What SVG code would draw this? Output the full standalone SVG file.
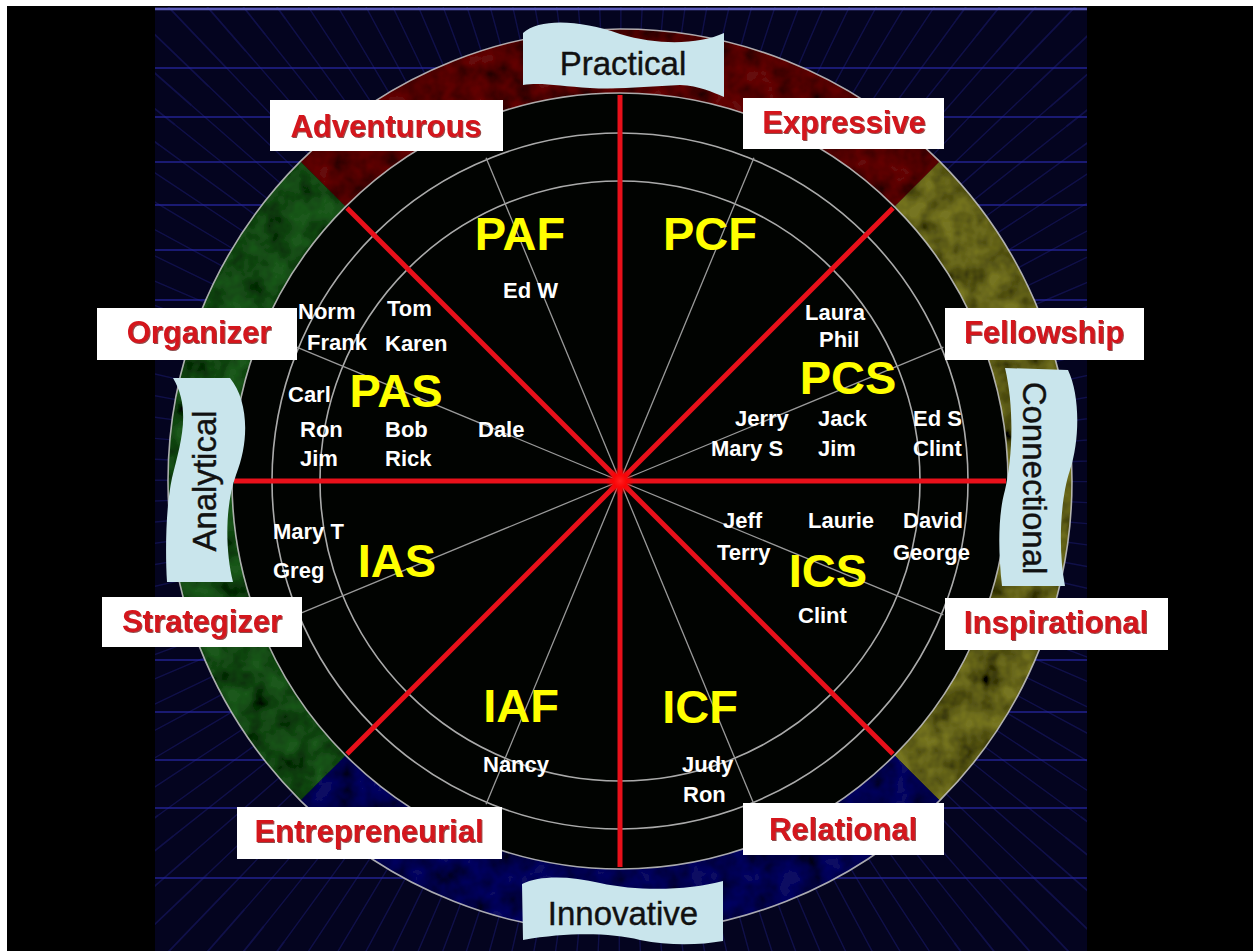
<svg xmlns="http://www.w3.org/2000/svg" width="1253" height="951" viewBox="0 0 1253 951">
<style>
.lbl{fill:#ffffff}
.lt{font-family:"Liberation Sans",Arial,sans-serif;font-weight:bold;font-size:31px;fill:#d4141c;text-anchor:middle}
.code{font-family:"Liberation Sans",Arial,sans-serif;font-weight:bold;font-size:47px;fill:#ffff00;text-anchor:middle}
.nm{font-family:"Liberation Sans",Arial,sans-serif;font-weight:bold;font-size:22px;fill:#ffffff}
.ban{fill:#c9e5ec}
.bt{font-family:"Liberation Sans",Arial,sans-serif;font-size:33px;fill:#111111;text-anchor:middle;stroke:#111111;stroke-width:0.4}
.ring{fill:none;stroke:#c8c8c8;stroke-width:1.6;opacity:0.85}
.spoke{stroke:#9a9a9a;stroke-width:1.3}
.div{stroke:#e8101a;stroke-width:5}
.hl{stroke:#2626a0;stroke-width:2;opacity:0.65}
</style>
<defs>
<clipPath id="bgclip"><rect x="155" y="7" width="932" height="944"/></clipPath>
<filter id="mottle" x="0" y="0" width="1" height="1">
<feTurbulence type="fractalNoise" baseFrequency="0.045" numOctaves="3" seed="4" result="n"/>
<feColorMatrix in="n" type="matrix" values="0 0 0 0 0  0 0 0 0 0  0 0 0 0 0  1.6 0 0 0 -0.45" result="a"/>
<feComposite in="a" in2="SourceGraphic" operator="in" result="d"/>
<feMerge><feMergeNode in="SourceGraphic"/><feMergeNode in="d"/></feMerge>
</filter>
<filter id="shadow" x="-5%" y="-20%" width="110%" height="140%">
<feDropShadow dx="1" dy="1" stdDeviation="0.7" flood-color="#600000" flood-opacity="0.7"/>
</filter>
<radialGradient id="glow"><stop offset="0" stop-color="#ff2020"/><stop offset="0.5" stop-color="#ff0000" stop-opacity="0.8"/><stop offset="1" stop-color="#ff0000" stop-opacity="0"/></radialGradient>
</defs>

<g id="background">
<rect x="0" y="0" width="1253" height="951" fill="#000000"/>
<rect x="0" y="0" width="1253" height="6" fill="#ffffff"/>
<rect x="0" y="0" width="7" height="951" fill="#ffffff"/>
<rect x="155" y="7" width="932" height="944" fill="#04041f"/>
<g clip-path="url(#bgclip)">
<circle cx="620" cy="481" r="510" fill="none" stroke="#24248a" stroke-width="120" stroke-dasharray="1.4 21.489" opacity="0.4"/>
<circle cx="620" cy="481" r="640" fill="none" stroke="#24248a" stroke-width="140" stroke-dasharray="1.8 26.923" opacity="0.4"/>
<line class="hl" x1="155" y1="68" x2="1087" y2="68"/>
<line class="hl" x1="155" y1="117" x2="1087" y2="117"/>
<line class="hl" x1="155" y1="162" x2="1087" y2="162"/>
<line class="hl" x1="155" y1="205" x2="1087" y2="205"/>
<line class="hl" x1="155" y1="250" x2="1087" y2="250"/>
<line class="hl" x1="155" y1="300" x2="1087" y2="300"/>
<line class="hl" x1="155" y1="660" x2="1087" y2="660"/>
<line class="hl" x1="155" y1="712" x2="1087" y2="712"/>
<line class="hl" x1="155" y1="760" x2="1087" y2="760"/>
<line class="hl" x1="155" y1="808" x2="1087" y2="808"/>
<line class="hl" x1="155" y1="878" x2="1087" y2="878"/>
<line x1="155" y1="9" x2="1087" y2="9" stroke="#5a5ab8" stroke-width="2.5"/>
</g>
</g>

<g id="wheel">
<g filter="url(#mottle)">
<path d="M300.39,161.39 A452,452 0 0 1 939.61,161.39 L894.36,206.64 A388,388 0 0 0 345.64,206.64 Z" fill="#650b10"/>
<path d="M939.61,161.39 A452,452 0 0 1 939.61,800.61 L894.36,755.36 A388,388 0 0 0 894.36,206.64 Z" fill="#767420"/>
<path d="M939.61,800.61 A452,452 0 0 1 300.39,800.61 L345.64,755.36 A388,388 0 0 0 894.36,755.36 Z" fill="#0c0c62"/>
<path d="M300.39,800.61 A452,452 0 0 1 300.39,161.39 L345.64,206.64 A388,388 0 0 0 345.64,755.36 Z" fill="#1f581f"/>
</g>
<circle cx="620" cy="481" r="388" fill="#010301"/>
<circle class="ring" cx="620" cy="481" r="452"/>
<circle class="ring" cx="620" cy="481" r="388"/>
<circle class="ring" cx="620" cy="481" r="348"/>
<circle class="ring" cx="620" cy="481" r="300"/>
<line class="spoke" x1="620" y1="481" x2="943.36" y2="614.94"/>
<line class="spoke" x1="620" y1="481" x2="753.94" y2="804.36"/>
<line class="spoke" x1="620" y1="481" x2="486.06" y2="804.36"/>
<line class="spoke" x1="620" y1="481" x2="296.64" y2="614.94"/>
<line class="spoke" x1="620" y1="481" x2="296.64" y2="347.06"/>
<line class="spoke" x1="620" y1="481" x2="486.06" y2="157.64"/>
<line class="spoke" x1="620" y1="481" x2="753.94" y2="157.64"/>
<line class="spoke" x1="620" y1="481" x2="943.36" y2="347.06"/>
</g>

<g id="connectors">
<line class="div" x1="620" y1="95" x2="620" y2="867"/>
<line class="div" x1="234" y1="481" x2="1006" y2="481"/>
<line class="div" x1="347" y1="208" x2="893" y2="754"/>
<line class="div" x1="893" y1="208" x2="347" y2="754"/>
<circle cx="620" cy="481" r="14" fill="url(#glow)"/>
</g>

<g id="banner-practical">
<path class="ban" d="M523,33 C540,18 580,20 620,34 C660,46 700,44 724,33 L724,97 C712,92 700,86 680,85 C650,86 620,90 590,88 C560,86 540,82 523,85 Z"/>
<text class="bt" x="623" y="75">Practical</text>
</g>
<g id="banner-innovative">
<path class="ban" d="M522,884 C540,875 570,876 600,883 C640,892 690,890 723,881 L723,941 C700,945 670,946 640,940 C610,933 570,932 523,940 Z"/>
<text class="bt" x="623" y="925">Innovative</text>
</g>
<g id="banner-analytical">
<path class="ban" d="M173,378 L230,378 C248,400 250,440 236,475 C225,505 225,550 233,582 L167,582 C165,550 166,505 172,478 C180,445 192,410 173,378 Z"/>
<text class="bt" transform="translate(216,481) rotate(-90)">Analytical</text>
</g>
<g id="banner-connectional">
<path class="ban" d="M1005,368 L1068,370 C1080,395 1080,440 1070,470 C1060,500 1058,550 1065,586 L1002,586 C998,550 998,515 1005,490 C1012,460 1015,410 1005,368 Z"/>
<text class="bt" transform="translate(1023,478) rotate(90)">Connectional</text>
</g>

<g id="label-adventurous"><rect class="lbl" x="270" y="100" width="233" height="51"/><text class="lt" filter="url(#shadow)" x="386" y="137">Adventurous</text></g>
<g id="label-expressive"><rect class="lbl" x="743" y="98" width="201" height="51"/><text class="lt" filter="url(#shadow)" x="844" y="133">Expressive</text></g>
<g id="label-organizer"><rect class="lbl" x="97" y="308" width="200" height="52"/><text class="lt" filter="url(#shadow)" x="199" y="343">Organizer</text></g>
<g id="label-fellowship"><rect class="lbl" x="945" y="308" width="199" height="52"/><text class="lt" filter="url(#shadow)" x="1044" y="343">Fellowship</text></g>
<g id="label-strategizer"><rect class="lbl" x="102" y="597" width="200" height="50"/><text class="lt" filter="url(#shadow)" x="202" y="632">Strategizer</text></g>
<g id="label-inspirational"><rect class="lbl" x="945" y="598" width="223" height="52"/><text class="lt" filter="url(#shadow)" x="1056" y="633">Inspirational</text></g>
<g id="label-entrepreneurial"><rect class="lbl" x="237" y="807" width="265" height="52"/><text class="lt" filter="url(#shadow)" x="369" y="842">Entrepreneurial</text></g>
<g id="label-relational"><rect class="lbl" x="743" y="803" width="201" height="52"/><text class="lt" filter="url(#shadow)" x="843" y="840">Relational</text></g>

<g id="sector-paf"><text class="code" x="520" y="250">PAF</text><text class="nm" x="503" y="298">Ed W</text></g>
<g id="sector-pcf"><text class="code" x="710" y="250">PCF</text></g>
<g id="sector-pas">
<text class="code" x="396" y="407">PAS</text>
<text class="nm" x="298" y="319">Norm</text>
<text class="nm" x="387" y="316">Tom</text>
<text class="nm" x="307" y="350">Frank</text>
<text class="nm" x="385" y="351">Karen</text>
<text class="nm" x="288" y="402">Carl</text>
<text class="nm" x="300" y="437">Ron</text>
<text class="nm" x="385" y="437">Bob</text>
<text class="nm" x="478" y="437">Dale</text>
<text class="nm" x="300" y="466">Jim</text>
<text class="nm" x="385" y="466">Rick</text>
</g>
<g id="sector-ias">
<text class="code" x="397" y="577">IAS</text>
<text class="nm" x="273" y="539">Mary T</text>
<text class="nm" x="273" y="578">Greg</text>
</g>
<g id="sector-pcs">
<text class="code" x="848" y="394">PCS</text>
<text class="nm" x="805" y="320">Laura</text>
<text class="nm" x="819" y="347">Phil</text>
<text class="nm" x="735" y="426">Jerry</text>
<text class="nm" x="818" y="426">Jack</text>
<text class="nm" x="913" y="426">Ed S</text>
<text class="nm" x="711" y="456">Mary S</text>
<text class="nm" x="818" y="456">Jim</text>
<text class="nm" x="913" y="456">Clint</text>
</g>
<g id="sector-ics">
<text class="code" x="828" y="587">ICS</text>
<text class="nm" x="723" y="528">Jeff</text>
<text class="nm" x="808" y="528">Laurie</text>
<text class="nm" x="903" y="528">David</text>
<text class="nm" x="717" y="560">Terry</text>
<text class="nm" x="893" y="560">George</text>
<text class="nm" x="798" y="623">Clint</text>
</g>
<g id="sector-iaf"><text class="code" x="521" y="722">IAF</text><text class="nm" x="483" y="772">Nancy</text></g>
<g id="sector-icf"><text class="code" x="700" y="723">ICF</text><text class="nm" x="682" y="772">Judy</text><text class="nm" x="683" y="802">Ron</text></g>
</svg>
